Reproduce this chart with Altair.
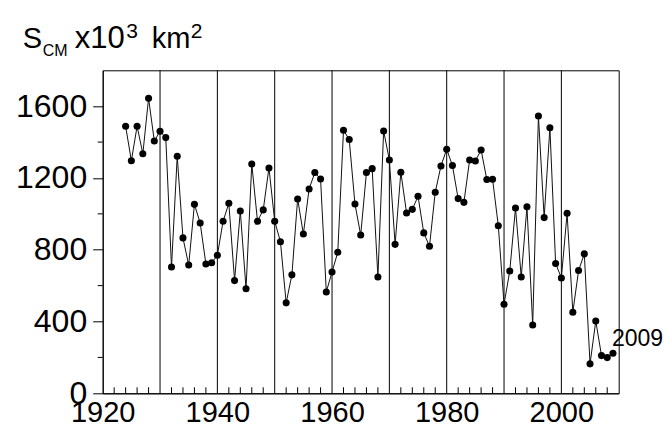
import altair as alt
import pandas as pd

# --- data -------------------------------------------------------------
years = list(range(1924, 2010))
area = [
    1488, 1296, 1488, 1335, 1644, 1406, 1460, 1425, 704, 1321,
    866, 715, 1053, 949, 721, 728, 769, 959, 1059, 628,
    1016, 583, 1278, 959, 1022, 1256, 959, 845, 504, 660,
    1083, 888, 1139, 1230, 1194, 565, 676, 786, 1466, 1414,
    1055, 882, 1230, 1252, 648, 1462, 1300, 830, 1232, 1005,
    1025, 1098, 894, 819, 1120, 1267, 1360, 1269, 1085, 1064,
    1300, 1295, 1356, 1191, 1193, 934, 496, 682, 1033, 648,
    1040, 381, 1545, 979, 1480, 723, 643, 1003, 452, 684,
    777, 164, 403, 210, 199, 223,
]
decade_lines = [1930, 1940, 1950, 1960, 1970, 1980, 1990, 2000]
x_minor = [y for y in range(1922, 2010, 2) if y % 10 != 0]
x_labels = [1920, 1940, 1960, 1980, 2000]
y_major = [0, 400, 800, 1200, 1600]
y_minor = [200, 600, 1000, 1400]

df = pd.DataFrame({"year": years, "area": area})
df_dec = pd.DataFrame({"year": decade_lines})
df_xm = pd.DataFrame({"year": x_minor})
df_ym = pd.DataFrame({"v": y_minor})

W, H = 516, 323
FONT = "Liberation Sans"

xs = alt.Scale(domain=[1920, 2010], nice=False, zero=False)
ys = alt.Scale(domain=[0, 1800], nice=False)

base = alt.Chart(df)

line = base.mark_line(color="#111111", strokeWidth=1).encode(
    x=alt.X("year:Q", scale=xs, title=None,
            axis=alt.Axis(values=x_labels, format="d", ticks=False,
                          labelFontSize=29, labelPadding=5, grid=False,
                          labelFont=FONT, labelColor="black",
                          domainColor="black", labelFlush=False)),
    y=alt.Y("area:Q", scale=ys, title=None,
            axis=alt.Axis(values=y_major, format="d", tickSize=10,
                          tickColor="black", labelFontSize=32,
                          labelPadding=6, grid=False, labelFont=FONT,
                          labelColor="black", domainColor="black")),
)
pts = base.mark_circle(color="black", size=50, opacity=1).encode(
    x=alt.X("year:Q", scale=xs), y=alt.Y("area:Q", scale=ys)
)
last = base.transform_filter("datum.year == 2009").mark_text(
    align="left", baseline="alphabetic", dx=-1, dy=-7,
    fontSize=23, font=FONT, color="black"
).encode(
    x=alt.X("year:Q", scale=xs), y=alt.Y("area:Q", scale=ys),
    text=alt.Text("year:Q", format="d"),
)

vlines = alt.Chart(df_dec).mark_rule(color="black", strokeWidth=1).encode(
    x=alt.X("year:Q", scale=xs)
)
xticks = alt.Chart(df_xm).mark_rule(color="black", strokeWidth=1).encode(
    x=alt.X("year:Q", scale=xs), y=alt.value(H), y2=alt.value(H - 6)
)
yticks = alt.Chart(df_ym).mark_rule(color="black", strokeWidth=1).encode(
    y=alt.Y("v:Q", scale=ys), x=alt.value(-5), x2=alt.value(0)
)

def txt(s, x, y, size):
    return alt.Chart(df.head(1)).mark_text(
        text=s, align="left", baseline="alphabetic", fontSize=size,
        font=FONT, color="black"
    ).encode(x=alt.value(x), y=alt.value(y))

title = (
    txt("S", -80, -22, 29)
    + txt("CM", -60, -14.5, 16)
    + txt("x10", -28, -22, 31)
    + txt("3", 23.5, -32, 21)
    + txt("km", 49, -22, 29)
    + txt("2", 88, -32, 21)
)

chart = alt.layer(vlines, xticks, yticks, line, pts, last, title).properties(
    width=W, height=H,
    autosize=alt.AutoSizeParams(type="none"),
    padding={"left": 102.7, "top": 70.3, "right": 47.3, "bottom": 30.7},
).configure_view(stroke="black", strokeWidth=1).configure_axis(
    domainWidth=1, tickWidth=1
)

chart.save("out.html", embed_options={"renderer": "svg", "actions": False})
